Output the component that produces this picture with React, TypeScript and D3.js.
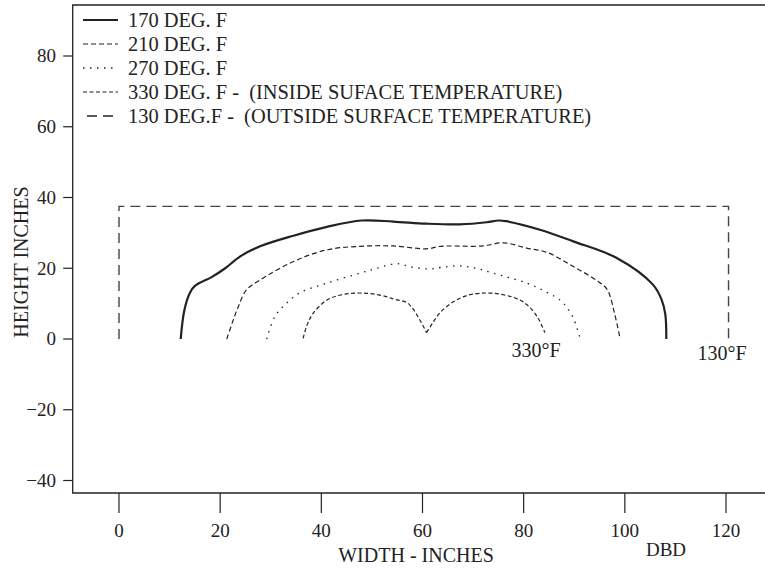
import React from "react";
import * as d3 from "d3";

const xTicks = [0, 20, 40, 60, 80, 100, 120];
const yTicks = [-40, -20, 0, 20, 40, 60, 80];

const curve170: [number, number][] = [
  [12.2, 0], [12.9, 8], [14.0, 13], [15.0, 15], [18.3, 17.5], [21, 20], [23.9, 23.3],
  [27.9, 26.2], [34.5, 29.2], [41.1, 31.7], [48, 33.5], [54.2, 33.2], [60.8, 32.6],
  [67.4, 32.4], [72.7, 33.0], [75, 33.5], [76.5, 33.3], [83.2, 30.9], [89.8, 27.6],
  [98.4, 22.9], [105.6, 15.3], [107.3, 11], [108, 7], [108.2, 0],
];
const curve210: [number, number][] = [
  [21.3, 0], [22.5, 5], [23.6, 9.2], [25.2, 13.9], [27.9, 16.7], [34.5, 21.9],
  [41.1, 25.2], [47.6, 26.2], [54.2, 26.3], [60.8, 25.5], [63.5, 26.2], [72, 26.3],
  [76, 27.2], [80.6, 25.7], [84.6, 24.5], [89.8, 20.5], [94.5, 16.5], [96.5, 14],
  [98, 7], [99, 0.5],
];
const curve270: [number, number][] = [
  [29.2, 0], [30.8, 6.3], [33.1, 10.1], [35.8, 13.1], [41.1, 15.8], [47.6, 18.6],
  [51, 20], [54.9, 21.3], [58, 20.3], [61.5, 19.8], [64, 20.3], [67.4, 20.7],
  [70.5, 20], [74, 18.6], [80.6, 15.8], [84.6, 13.2], [87.2, 11], [88.5, 9],
  [89.8, 6], [91.1, 0.5],
];
// inside surface: two lobes meeting at a cusp
const curve330Left: [number, number][] = [
  [36.4, 0.2], [37.2, 4], [38.4, 7.3], [41.1, 11], [44, 12.5], [47.6, 13], [51.6, 12.4],
  [54.5, 11.2], [57.2, 10], [60.8, 1.8],
];
const curve330Right: [number, number][] = [
  [60.8, 1.8], [62, 4.5], [63.5, 7.5], [66.1, 10.5],
  [69, 12.4], [72.7, 13], [76, 12.5], [79.3, 11], [81.5, 8.5], [83, 5.5], [84.2, 1.8],
];
const curve130: [number, number][] = [
  [0, 0], [0, 37.5], [120.5, 37.5], [120.5, 0],
];

const legendLabels = [
  "170 DEG. F",
  "210 DEG. F",
  "270 DEG. F",
  "330 DEG. F -  (INSIDE SUFACE TEMPERATURE)",
  "130 DEG.F -  (OUTSIDE SURFACE TEMPERATURE)",
];

const ink = "#222";
const font = "'Liberation Serif', 'Times New Roman', serif";

export default function App() {
  const x = d3.scaleLinear().domain([0, 120]).range([119, 726]);
  const y = d3.scaleLinear().domain([0, 80]).range([339, 56]);
  const left = 72.7, top = 5, bottom = 493, right = 800;

  const smooth = d3.line<[number, number]>().x(d => x(d[0])).y(d => y(d[1])).curve(d3.curveCatmullRom.alpha(0.5));
  const straight = d3.line<[number, number]>().x(d => x(d[0])).y(d => y(d[1]));

  const styles = [
    { w: 2.2, dash: undefined as string | undefined },
    { w: 1.2, dash: "5,3" },
    { w: 1.3, dash: "1.5,5.5" },
    { w: 1.2, dash: "4,2.5" },
    { w: 1.4, dash: "10,6" },
  ];
  const series = [curve170, curve210, curve270, curve330Left, curve330Right];
  const styleIdx = [0, 1, 2, 3, 3];
  const rowY = [20, 44, 68, 92, 116];

  return (
    <svg width={765} height={571} style={{ display: "block", position: "absolute", left: 0, top: 0 }} fontFamily={font}>
      <rect width={765} height={571} fill="#fff" />
      <path d={`M${right},${top}H${left}V${bottom}H${right}`} fill="none" stroke={ink} strokeWidth={1.3} />
      {yTicks.map(t => (
        <g key={"y" + t}>
          <line x1={left - 9.5} x2={left} y1={y(t)} y2={y(t)} stroke={ink} strokeWidth={1.2} />
          <text x={56} y={y(t)} dy="0.34em" textAnchor="end" fontSize={19} fill={ink}>
            {t < 0 ? "\u2212" + Math.abs(t) : t}
          </text>
        </g>
      ))}
      {xTicks.map(t => (
        <g key={"x" + t}>
          <line x1={x(t)} x2={x(t)} y1={bottom} y2={bottom + 20} stroke={ink} strokeWidth={1.2} />
          <text x={x(t)} y={531} dy="0.34em" textAnchor="middle" fontSize={19} fill={ink}>{t}</text>
        </g>
      ))}
      <text x={416} y={555} dy="0.34em" textAnchor="middle" fontSize={20} fill={ink}>WIDTH - INCHES</text>
      <text x={666} y={550} dy="0.34em" textAnchor="middle" fontSize={19} fill={ink}>DBD</text>
      <text transform={`translate(21,262) rotate(-90)`} dy="0.34em" textAnchor="middle" fontSize={20} fill={ink}>HEIGHT INCHES</text>

      {series.map((s, i) => (
        <path key={"s" + i} d={smooth(s)!} fill="none" stroke={ink}
          strokeWidth={styles[styleIdx[i]].w} strokeDasharray={styles[styleIdx[i]].dash} />
      ))}
      <path d={straight(curve130)!} fill="none" stroke="#444" strokeWidth={styles[4].w} strokeDasharray={styles[4].dash} />

      <text x={536} y={350} dy="0.34em" textAnchor="middle" fontSize={20} fill={ink}>330°F</text>
      <text x={722} y={353} dy="0.34em" textAnchor="middle" fontSize={20} fill={ink}>130°F</text>

      {legendLabels.map((lab, i) => (
        <g key={"l" + i}>
          <line x1={i === 4 ? 87 : 83} x2={i === 4 ? 113 : 118} y1={rowY[i]} y2={rowY[i]} stroke={ink}
            strokeWidth={styles[i].w} strokeDasharray={styles[i].dash} />
          <text x={128} y={rowY[i]} dy="0.34em" fontSize={20.4} fill={ink} style={{ whiteSpace: "pre" }}>{lab}</text>
        </g>
      ))}
    </svg>
  );
}
